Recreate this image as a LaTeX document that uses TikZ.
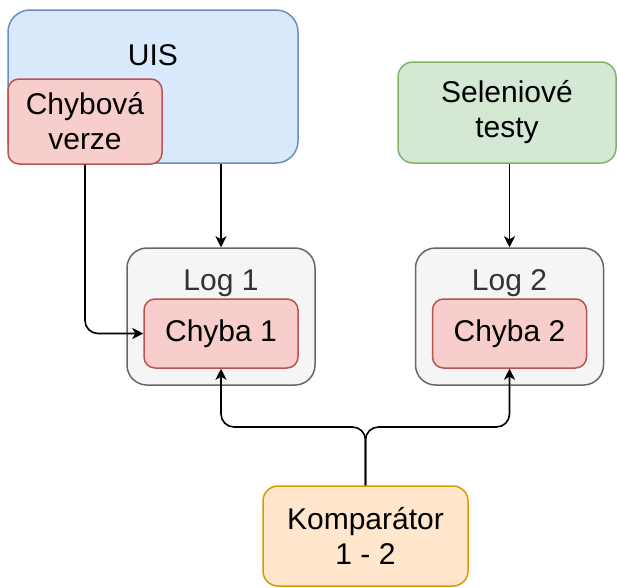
\documentclass[tikz,border=0pt]{standalone}
\usepackage{fontspec}
\setmainfont{Liberation Sans}
\usetikzlibrary{arrows.meta}
\definecolor{uisfill}{HTML}{DAE8FC}
\definecolor{uisline}{HTML}{6C8EBF}
\definecolor{errfill}{HTML}{F8CECC}
\definecolor{errline}{HTML}{B85450}
\definecolor{testfill}{HTML}{D5E8D4}
\definecolor{testline}{HTML}{82B366}
\definecolor{logfill}{HTML}{F5F5F5}
\definecolor{logline}{HTML}{666666}
\definecolor{logtext}{HTML}{333333}
\definecolor{compfill}{HTML}{FFE6CC}
\definecolor{compline}{HTML}{D79B00}

\begin{document}
\begin{tikzpicture}
[
    x=1pt, y=-1pt,
    every node/.style={font=\fontsize{30}{35}\selectfont, inner sep=0pt},
    box/.style={draw, line width=1.5pt, align=center},
    uisbox/.style={box, fill=uisfill, draw=uisline, rounded corners=22pt},
    errbox/.style={box, fill=errfill, draw=errline, rounded corners=11pt},
    testbox/.style={box, fill=testfill, draw=testline, rounded corners=15pt},
    logbox/.style={box, fill=logfill, draw=logline, rounded corners=20pt},
    compbox/.style={box, fill=compfill, draw=compline, rounded corners=15pt},
    conn/.style={draw, line width=1.6pt, -{Stealth[length=11pt, width=11pt, inset=3pt]}},
]
\useasboundingbox (0,0) rectangle (617,587);

\node [uisbox, minimum width=290pt, minimum height=153pt] (uis) at (153,86.5) {};
\node (uistext) at (153,55) {UIS};
\node [errbox, minimum width=154pt, minimum height=85pt] (chybova) at (85,121.5) {Chybová\\verze};

\node [testbox, minimum width=218pt, minimum height=101pt] (selen) at (507,112.5) {Seleniové\\testy};

\node [logbox, minimum width=188pt, minimum height=137pt] (log1) at (221,316.5) {};
\node [text=logtext] (log1text) at (221,283) {Log 1};
\node [errbox, minimum width=154pt, minimum height=69pt] (chyba1) at (221,333.5) {Chyba 1};

\node [logbox, minimum width=188pt, minimum height=137pt] (log2) at (509.5,316.5) {};
\node [text=logtext] (log2text) at (509.5,283) {Log 2};
\node [errbox, minimum width=154pt, minimum height=69pt] (chyba2) at (509.5,333.5) {Chyba 2};

\node [compbox, minimum width=205pt, minimum height=100pt] (komp) at (365.5,536) {Komparátor\\1 - 2};

\coordinate (fork) at (365.5,427);

\draw [conn] (uis.south -| log1.north) -- (log1.north);
\draw [conn, rounded corners=13pt] (chybova.south) |- (chyba1.west);
\draw [conn] (selen.south -| log2.north) -- (log2.north);
\draw [conn, rounded corners=13pt] (komp.north) -- (fork) -| (chyba1.south);
\draw [conn, rounded corners=13pt] (komp.north) -- (fork) -| (chyba2.south);
\end{tikzpicture}
\end{document}
